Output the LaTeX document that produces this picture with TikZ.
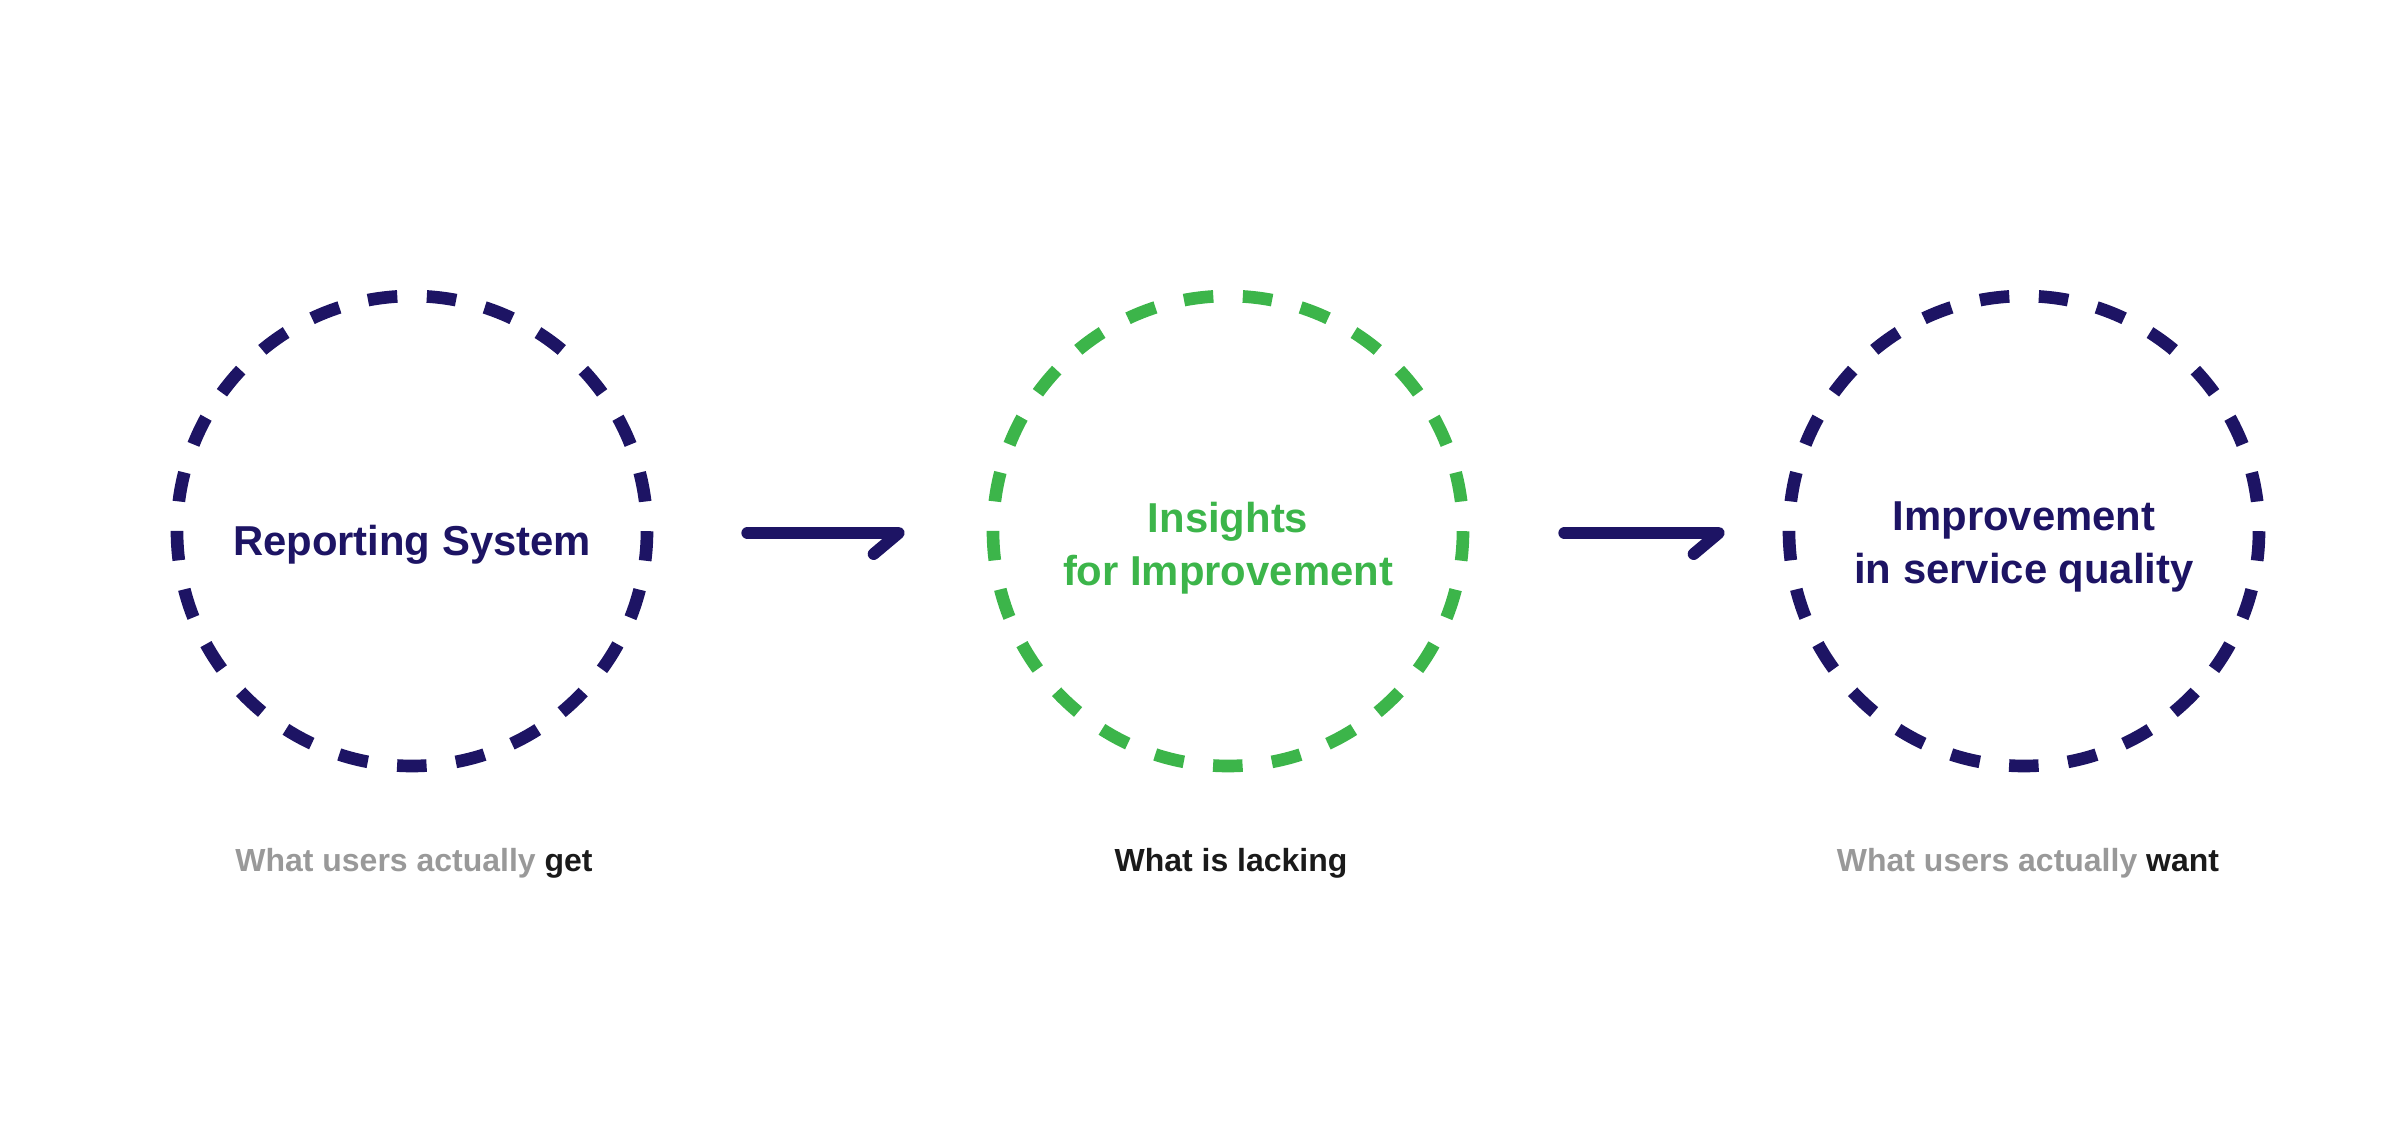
\documentclass[tikz,border=0pt]{standalone}
\usepackage{fontspec}
\setmainfont{Liberation Sans}
\usepackage{xcolor}
\usepackage{tikz}
\usetikzlibrary{positioning,calc}
\definecolor{navy}{RGB}{29,20,100}
\definecolor{leaf}{RGB}{60,181,74}
\definecolor{mute}{RGB}{153,153,153}
\definecolor{ink}{RGB}{26,26,26}
\tikzset{
  ring/.style={draw, circle, minimum size=4.70cm, inner sep=0pt, line width=3.6pt, dash pattern=on 2.953mm off 2.953mm, dash phase=2.953mm},
  title/.style={anchor=base, align=center, font=\bfseries\fontsize{11.9}{15.1}\selectfont},
  caption/.style={anchor=base, font=\bfseries\fontsize{9.1}{11}\selectfont, text=mute},
  flow/.style={navy, line width=3.4pt, line cap=round, line join=round}
}

\begin{document}
\begin{tikzpicture}
\useasboundingbox (0,0) rectangle (24.01,11.28);
\node[ring,draw=navy] (report) at (4.12,5.97) {};
\node[ring,draw=leaf] (insight) at (12.28,5.97) {};
\node[ring,draw=navy] (quality) at (20.24,5.97) {};

\node[title,text=navy] (reportlbl) at (4.12,5.72) {Reporting System};
\node[title,text=leaf] (insightlbl) at (12.28,5.42) {Insights\\for Improvement};
\node[title,text=navy] (qualitylbl) at (20.24,5.44) {Improvement\\in service quality};

\node[caption] (getlbl) at (4.14,2.563) {What users actually \textcolor{ink}{get}};
\node[caption,text=ink] (lacklbl) at (12.31,2.563) {What is lacking};
\node[caption] (wantlbl) at (20.28,2.563) {What users actually \textcolor{ink}{want}};

\draw[flow] ([xshift=0.94cm,yshift=-0.02cm]report.east) -- ([xshift=-0.88cm,yshift=-0.02cm]insight.west) -- ++(-0.25,-0.21);
\draw[flow] ([xshift=0.95cm,yshift=-0.02cm]insight.east) -- ([xshift=-0.64cm,yshift=-0.02cm]quality.west) -- ++(-0.25,-0.21);
\end{tikzpicture}
\end{document}
